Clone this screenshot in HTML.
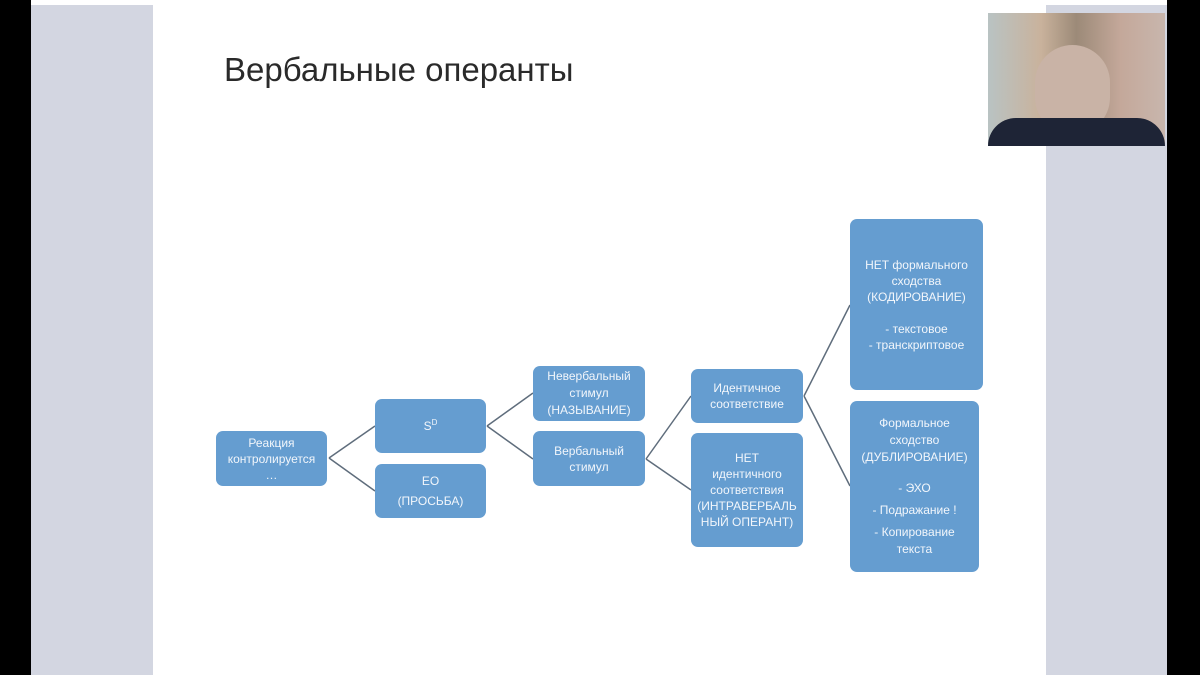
<!DOCTYPE html>
<html><head><meta charset="utf-8"><style>
body{margin:0;width:1200px;height:675px;position:relative;overflow:hidden;background:#000;font-family:"Liberation Sans","DejaVu Sans",sans-serif}
.a{position:absolute}
.b{position:absolute;background:#659dd0;color:#f2f6fb;border-radius:7px;font-size:12px;line-height:16px;text-align:center;display:flex;flex-direction:column;justify-content:center;align-items:center}
</style></head><body>
<div class="a" style="left:31px;top:0;width:1136px;height:675px;background:#d3d6e1"></div>
<div class="a" style="left:31px;top:0;width:1136px;height:5px;background:#fff"></div>
<div class="a" style="left:153px;top:5px;width:893px;height:670px;background:#fff"></div>
<div class="a" style="left:224px;top:51px;font-size:33px;color:#2a2a2a">Вербальные операнты</div>
<div class="a" style="left:988px;top:13px;width:177px;height:133px;background:linear-gradient(90deg,#b9c3c3 0%,#c9b29c 30%,#9c8a78 50%,#c4a89a 75%,#c8b6ad 100%)"></div>
<div class="a" style="left:1035px;top:45px;width:75px;height:90px;border-radius:40px;background:#c9b3a6"></div>
<div class="a" style="left:988px;top:118px;width:177px;height:28px;background:#1e2436;border-radius:30px 30px 0 0"></div>
<svg class="a" style="left:0;top:0" width="1200" height="675">
<g stroke="#5f6d7c" stroke-width="1.5" fill="none">
<path d="M329 458 L375 426 M329 458 L375 491"/>
<path d="M487 426 L533 393 M487 426 L533 459"/>
<path d="M646 459 L691 396 M646 459 L691 490"/>
<path d="M804 396 L850 305 M804 396 L850 486"/>
</g></svg>
<div class="b" style="left:216px;top:431px;width:111px;height:55px">Реакция<br>контролируется<br>…</div>
<div class="b" style="left:375px;top:399px;width:111px;height:54px"><span>S<sup style="font-size:8px;line-height:0;vertical-align:5px">D</sup></span></div>
<div class="b" style="left:375px;top:464px;width:111px;height:54px;line-height:20px">ЕО<br>(ПРОСЬБА)</div>
<div class="b" style="left:533px;top:366px;width:112px;height:55px;line-height:17px">Невербальный<br>стимул<br>(НАЗЫВАНИЕ)</div>
<div class="b" style="left:533px;top:431px;width:112px;height:55px">Вербальный<br>стимул</div>
<div class="b" style="left:691px;top:369px;width:112px;height:54px">Идентичное<br>соответствие</div>
<div class="b" style="left:691px;top:433px;width:112px;height:114px">НЕТ<br>идентичного<br>соответствия<br>(ИНТРАВЕРБАЛЬ<br>НЫЙ ОПЕРАНТ)</div>
<div class="b" style="left:850px;top:219px;width:133px;height:171px">НЕТ формального<br>сходства<br>(КОДИРОВАНИЕ)<br><br>- текстовое<br>- транскриптовое</div>
<div class="b" style="left:850px;top:401px;width:129px;height:171px;line-height:17px"><div>Формальное<br>сходство<br>(ДУБЛИРОВАНИЕ)</div><div style="height:14px"></div><div>- ЭХО</div><div style="height:5px"></div><div>- Подражание !</div><div style="height:5px"></div><div>- Копирование<br>текста</div></div>
</body></html>
